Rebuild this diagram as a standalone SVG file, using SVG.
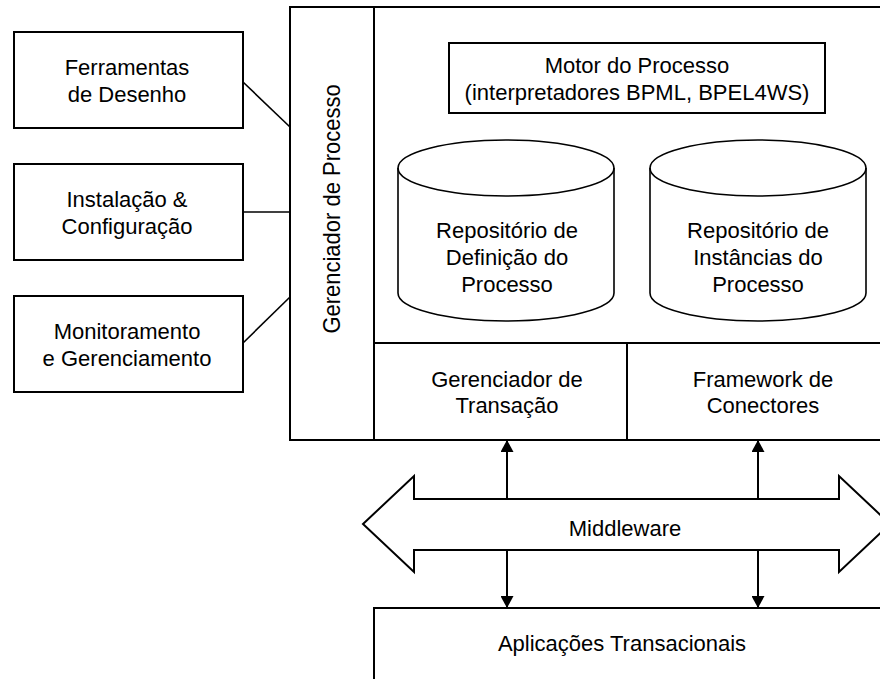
<svg xmlns="http://www.w3.org/2000/svg" width="880" height="679" viewBox="0 0 880 679">
<style>
.b{fill:#fff;stroke:#000;stroke-width:2}
.c{fill:none;stroke:#000;stroke-width:1.6}
.t{font-family:"Liberation Sans",Arial,sans-serif;font-size:22px;fill:#000;text-anchor:middle}
.l{fill:none;stroke:#000;stroke-width:2}
</style>
<defs>
<marker id="ah" viewBox="0 0 12 13" refX="12" refY="6.5" markerWidth="12" markerHeight="13" markerUnits="userSpaceOnUse" orient="auto">
<path d="M0,0 L12,6.5 L0,13 Z" fill="#000"/>
</marker>
</defs>
<rect width="880" height="679" fill="#fff"/>
<g id="ferramentas">
<rect class="b" x="14" y="32" width="229" height="96"/>
<text class="t" x="127" y="75">Ferramentas</text>
<text class="t" x="127" y="102">de Desenho</text>
</g>
<g id="instalacao">
<rect class="b" x="14" y="164" width="229" height="96"/>
<text class="t" x="127" y="207">Instalação &amp;</text>
<text class="t" x="127" y="234">Configuração</text>
</g>
<g id="monitoramento">
<rect class="b" x="14" y="296" width="229" height="96"/>
<text class="t" x="127" y="339">Monitoramento</text>
<text class="t" x="127" y="366">e Gerenciamento</text>
</g>
<g id="gerenciador-processo">
<rect class="b" x="290" y="7" width="84" height="433"/>
<text class="t" transform="translate(340,209) rotate(-90) scale(1,1.08)" x="0" y="0">Gerenciador de Processo</text>
</g>
<g id="nucleo">
<rect class="b" x="374" y="7" width="620" height="433"/>
<line class="l" x1="374" y1="343" x2="880" y2="343"/>
</g>
<g id="motor">
<rect class="b" x="449" y="43" width="376" height="70"/>
<text class="t" x="637" y="73">Motor do Processo</text>
<text class="t" x="637" y="100">(interpretadores BPML, BPEL4WS)</text>
</g>
<g id="repo-definicao">
<path class="c" d="M398,168 L398,293 A108,28 0 0 0 614,293 L614,168"/>
<ellipse class="c" cx="506" cy="168" rx="108" ry="28"/>
<text class="t" x="507" y="238">Repositório de</text>
<text class="t" x="507" y="265">Definição do</text>
<text class="t" x="507" y="292">Processo</text>
</g>
<g id="repo-instancias">
<path class="c" d="M650,168 L650,293 A108,28 0 0 0 866,293 L866,168"/>
<ellipse class="c" cx="758" cy="168" rx="108" ry="28"/>
<text class="t" x="758" y="238">Repositório de</text>
<text class="t" x="758" y="265">Instâncias do</text>
<text class="t" x="758" y="292">Processo</text>
</g>
<g id="transacao">
<text class="t" x="507" y="387">Gerenciador de</text>
<text class="t" x="507" y="413">Transação</text>
</g>
<g id="framework">
<line class="l" x1="627" y1="343" x2="627" y2="440"/>
<text class="t" x="763" y="387">Framework de</text>
<text class="t" x="763" y="413">Conectores</text>
</g>
<g id="middleware">
<path class="b" d="M363,524 L414,476 L414,499 L839,499 L839,476 L890,524 L839,572 L839,550 L414,550 L414,572 Z"/>
<text class="t" x="625" y="536">Middleware</text>
</g>
<g id="aplicacoes">
<rect class="b" x="374" y="608" width="620" height="200"/>
<text class="t" x="622" y="651">Aplicações Transacionais</text>
</g>
<g id="connectors">
<line class="c" x1="243" y1="82" x2="290" y2="127"/>
<line class="c" x1="243" y1="212" x2="290" y2="212"/>
<line class="c" x1="243" y1="343" x2="290" y2="297"/>
<line class="l" x1="507" y1="499" x2="507" y2="440" marker-end="url(#ah)"/>
<line class="l" x1="758" y1="499" x2="758" y2="440" marker-end="url(#ah)"/>
<line class="l" x1="507" y1="550" x2="507" y2="608" marker-end="url(#ah)"/>
<line class="l" x1="758" y1="550" x2="758" y2="608" marker-end="url(#ah)"/>
</g>
</svg>
